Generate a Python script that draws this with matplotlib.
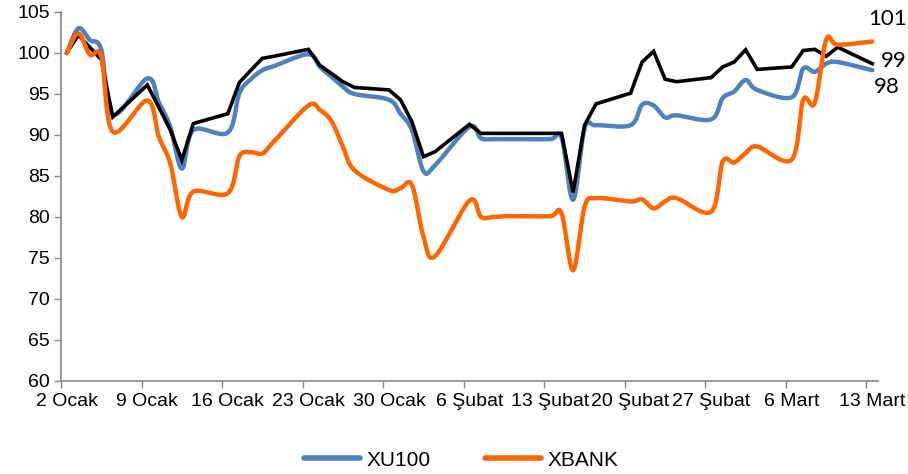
import numpy as np
import pandas as pd
import matplotlib
matplotlib.use("Agg")
import matplotlib.pyplot as plt
from matplotlib.ticker import FixedLocator, NullFormatter

# trading days, 2 Ocak - 13 Mart
dates = pd.bdate_range("2017-01-02", "2017-03-13")

xu100 = [100.0, 103.0, 101.6, 100.4, 92.5, 96.9, 94.0, 91.0, 85.9, 90.6,
         90.3, 95.1, 96.8, 97.9, 98.4, 99.85, 98.3, 97.1, 95.9, 95.0,
         94.3, 92.6, 90.6, 85.6, 86.3, 91.0, 89.6, 89.5, 89.5, 89.5,
         89.5, 89.7, 82.1, 90.8, 91.2, 91.2, 93.7, 93.6, 92.15, 92.4,
         91.9, 94.5, 95.3, 96.7, 95.5, 94.6, 98.1, 97.7, 98.7, 98.9,
         97.9]
xbank = [100.0, 102.4, 99.8, 99.55, 90.4, 94.2, 89.8, 86.5, 80.0, 83.1,
         82.9, 87.4, 87.9, 87.75, 89.2, 93.6, 93.05, 91.7, 88.6, 85.7,
         83.3, 83.5, 83.9, 77.6, 75.2, 82.0, 80.0, 80.0, 80.1, 80.1,
         80.1, 80.45, 73.5, 81.25, 82.3, 81.9, 82.15, 81.05, 81.9, 82.3,
         80.65, 86.75, 86.65, 87.8, 88.6, 87.0, 94.3, 93.9, 101.6, 101.0,
         101.4]
other = [100.0, 102.2, 100.7, 99.2, 92.2, 96.1, 93.4, 90.6, 86.95, 91.4,
         92.6, 96.4, 97.9, 99.35, 99.6, 100.45, 98.5, 97.5, 96.5, 95.8,
         95.5, 94.3, 91.6, 87.35, 87.96, 91.3, 90.2, 90.2, 90.2, 90.2,
         90.2, 90.2, 83.0, 91.2, 93.8, 95.1, 98.9, 100.2, 96.8, 96.5,
         97.0, 98.3, 98.9, 100.4, 98.0, 98.3, 100.3, 100.45, 99.6, 100.7,
         98.7]

tick_labels = ["2 Ocak", "9 Ocak", "16 Ocak", "23 Ocak", "30 Ocak", "6 Şubat",
               "13 Şubat", "20 Şubat", "27 Şubat", "6 Mart", "13 Mart"]
end_labels = ["101", "99", "98"]

BLUE = "#4F81BD"
ORANGE = "#FF6600"


def smooth(x, y, steps=20):
    # Excel-like smoothed line: cubic bezier with catmull-rom handles
    x = np.asarray(x, float)
    y = np.asarray(y, float)
    pts = np.column_stack([x, y])
    p = np.vstack([pts[0], pts, pts[-1]])
    out = []
    t = np.linspace(0, 1, steps)[:, None]
    for i in range(1, len(p) - 2):
        p0, p1, p2, p3 = p[i - 1], p[i], p[i + 1], p[i + 2]
        c1 = p1 + (p2 - p0) / 6.0
        c2 = p2 - (p3 - p1) / 6.0
        seg = ((1 - t) ** 3) * p1 + 3 * ((1 - t) ** 2) * t * c1 \
            + 3 * (1 - t) * t ** 2 * c2 + t ** 3 * p2
        out.append(seg if i == 1 else seg[1:])
    s = np.vstack(out)
    return s[:, 0], s[:, 1]


days = np.array((dates - dates[0]).days)

fig = plt.figure(figsize=(9.08, 4.74), dpi=100)
ax = fig.add_axes([61 / 908, 1 - 381 / 474, (878 - 61) / 908, (381 - 12) / 474])

sx, sy = smooth(days, xu100)
ax.plot(sx, sy, color=BLUE, lw=3.2, solid_capstyle="round", label="XU100", zorder=2)
ax.plot(days, other, color="black", lw=2.6, solid_joinstyle="miter", zorder=3)
sx, sy = smooth(days, xbank)
ax.plot(sx, sy, color=ORANGE, lw=3.2, solid_capstyle="round", label="XBANK", zorder=4)

ax.set_xlim(-0.5, 70.5)
ax.set_ylim(60, 105)
ax.set_yticks(np.arange(60, 106, 5))

label_pos = np.arange(0, 71, 7)
ax.xaxis.set_major_locator(FixedLocator(label_pos))
ax.set_xticklabels(tick_labels)
ax.xaxis.set_minor_locator(FixedLocator(label_pos - 0.5))
ax.xaxis.set_minor_formatter(NullFormatter())
ax.tick_params(axis="x", which="major", length=0, pad=9)
ax.tick_params(axis="x", which="minor", length=5, width=1, color="#868686", direction="out")
ax.tick_params(axis="y", length=5, width=1, color="#868686", direction="out", pad=3)

font = ["Liberation Sans Narrow", "Liberation Sans", "DejaVu Sans"]
for lab in ax.get_xticklabels() + ax.get_yticklabels():
    lab.set_family(font)
    lab.set_fontsize(14)

for side in ["top", "right"]:
    ax.spines[side].set_visible(False)
for side in ["left", "bottom"]:
    ax.spines[side].set_color("#868686")
    ax.spines[side].set_linewidth(1.2)

# end-of-series value labels
ax.annotate(end_labels[0], (days[-1], xbank[-1]), xytext=(-3, 9), textcoords="offset points",
            fontsize=16, family=["Lato", "DejaVu Sans"], va="bottom", ha="left")
ax.annotate(end_labels[1], (days[-1], other[-1]), xytext=(6, 2), textcoords="offset points",
            fontsize=16, family=["Lato", "DejaVu Sans"], va="center", ha="left")
ax.annotate(end_labels[2], (days[-1], xu100[-1]), xytext=(1, -12), textcoords="offset points",
            fontsize=16, family=["Lato", "DejaVu Sans"], va="center", ha="left")
for t in ax.texts:
    t.set_clip_on(False)

leg = fig.legend(loc="center", bbox_to_anchor=(0.508, 1 - 460 / 474), ncol=2, frameon=False,
                 handlelength=2.7, columnspacing=2.6, handletextpad=0.3,
                 prop={"family": font, "size": 15})
for h in leg.get_lines():
    h.set_linewidth(4)

fig.savefig("out.png", dpi=100)
